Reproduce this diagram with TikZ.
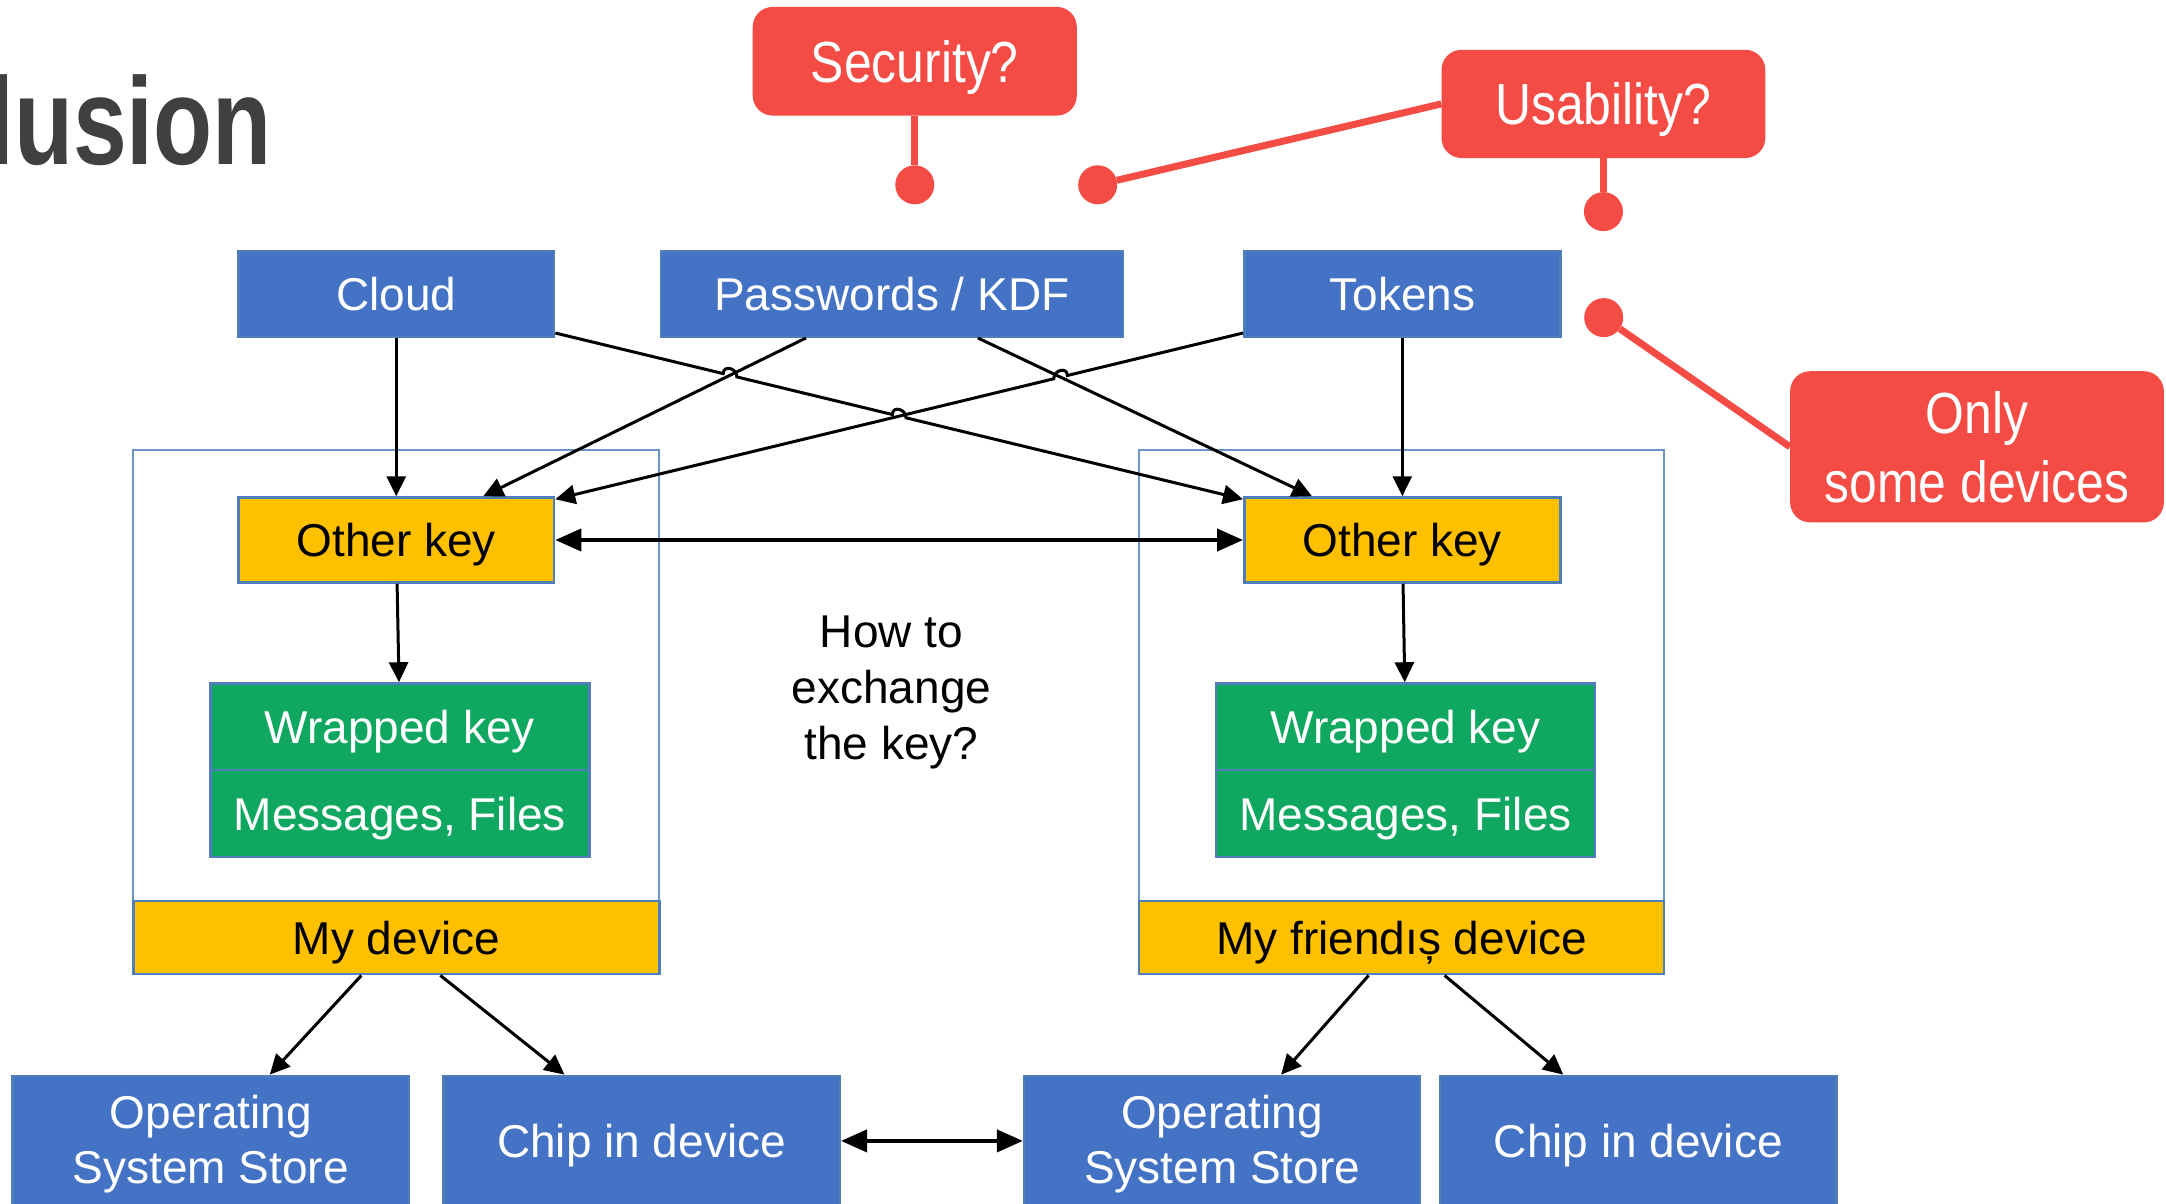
\documentclass[tikz,border=0pt]{standalone}
\usepackage{fontspec}
\setmainfont{Liberation Sans}
\newfontfamily\condfont[FakeStretch=0.86]{Liberation Sans}
\newfontfamily\headfont[FakeStretch=0.78]{Liberation Sans Bold}
\usetikzlibrary{arrows.meta,calc}

\definecolor{boxblue}{HTML}{4472C4}
\definecolor{edgeblue}{HTML}{4E7FBA}
\definecolor{framecol}{HTML}{6A95C9}
\definecolor{keyyellow}{HTML}{FFC000}
\definecolor{msggreen}{HTML}{10A860}
\definecolor{notered}{HTML}{F44C44}
\definecolor{headgray}{HTML}{404040}

% two centred lines, last baseline 43pt below the node centre
\newcommand\twolines[2]{\raisebox{-43pt}[0pt][0pt]{\begin{tabular}[b]{@{}c@{}}#1\\#2\end{tabular}}}

\begin{document}
\begin{tikzpicture}[x=1pt,y=-1pt,
  blk/.style={draw=edgeblue, line width=2.5pt, inner sep=0pt,
    font=\fontsize{46}{55}\selectfont, align=center},
  capline/.style={text height=33pt, text depth=0pt},
  bluebox/.style={blk, fill=boxblue, text=white},
  yellowbox/.style={blk, capline, fill=keyyellow, text=black},
  greenbox/.style={blk, capline, fill=msggreen, text=white},
  devframe/.style={draw=framecol, line width=2pt, inner sep=0pt},
  notebox/.style={fill=notered, rounded corners=20pt, inner sep=0pt, text=white,
    font=\condfont\fontsize{58}{69}\selectfont, align=center},
  noteline/.style={draw=notered, line width=7pt},
  notedot/.style={circle, fill=notered, minimum size=39pt, inner sep=0pt},
  link/.style={line width=3pt, -{Triangle[length=20pt,width=19pt]}},
  swap/.style={line width=4pt,
    {Triangle[length=26pt,width=22pt]}-{Triangle[length=26pt,width=22pt]}}
]
\useasboundingbox (0,0) rectangle (2166,1203);

% heading fragment
\node[anchor=base west, inner sep=0pt, text=headgray,
  font=\headfont\fontsize{124}{130}\selectfont] (title) at (-13,164.6) {lusion};

% device frames
\node[devframe, minimum width=526.1pt, minimum height=451.1pt] (contL) at (396.35,675.25) {};
\node[devframe, minimum width=525.2pt, minimum height=451.1pt] (contR) at (1401.6,675.25) {};

% key sources
\node[bluebox, capline, minimum width=315.5pt, minimum height=86pt] (cloud) at (396.25,293.75) {Cloud};
\node[bluebox, capline, minimum width=462.2pt, minimum height=86pt] (pw) at (891.9,293.75) {Passwords / KDF};
\node[bluebox, capline, minimum width=316pt, minimum height=86pt] (tokens) at (1402.3,293.75) {Tokens};

% keys on each device
\node[yellowbox, minimum width=315.5pt, minimum height=85pt] (okL) at (396.25,540) {Other key};
\node[yellowbox, minimum width=316pt, minimum height=85pt] (okR) at (1402.3,540) {Other key};

\node[greenbox, minimum width=378.9pt, minimum height=86.5pt] (wkL) at (399.85,726.75) {Wrapped key};
\node[greenbox, minimum width=378.9pt, minimum height=87pt] (msL) at (399.85,813.5) {Messages, Files};
\node[greenbox, minimum width=379.4pt, minimum height=86.5pt] (wkR) at (1405.5,726.75) {Wrapped key};
\node[greenbox, minimum width=379.4pt, minimum height=87pt] (msR) at (1405.5,813.5) {Messages, Files};

\node[yellowbox, minimum width=526.1pt, minimum height=73.4pt] (devL) at (396.35,937.5) {My device};
\node[yellowbox, minimum width=525.2pt, minimum height=73.4pt] (devR) at (1401.6,937.5) {My friendıș device};

% storage
\node[bluebox, minimum width=396.4pt, minimum height=130pt] (osL) at (210.8,1140.9) {\twolines{Operating}{System Store}};
\node[bluebox, capline, minimum width=396.4pt, minimum height=130pt] (chipL) at (641.55,1140.9) {Chip in device};
\node[bluebox, minimum width=396pt, minimum height=130pt] (osR) at (1222.15,1140.9) {\twolines{Operating}{System Store}};
\node[bluebox, capline, minimum width=396.5pt, minimum height=130pt] (chipR) at (1638.25,1140.9) {Chip in device};

\node[align=center, inner sep=0pt, font=\fontsize{46}{56}\selectfont] (q) at (891.5,692) {How to\\exchange\\the key?};

% connector end points
\coordinate (cS) at ($(cloud.south east)+(0,-5)$);
\coordinate (tS) at ($(tokens.south west)+(0,-5)$);
\coordinate (pL) at ($(pw.south)+(-86,0)$);
\coordinate (pR) at ($(pw.south)+(86,0)$);
\coordinate (okLin) at ($(okL.north east)+(-72,0)$);
\coordinate (okRin) at ($(okR.north west)+(69,0)$);
\coordinate (okLc) at ($(okL.north east)+(0,3)$);
\coordinate (okRc) at ($(okR.north west)+(0,3)$);

% crossings with line jumps
\coordinate (XA) at (intersection of cS--okRc and pL--okLin);
\coordinate (XB) at (intersection of cS--okRc and tS--okLc);
\coordinate (XC) at (intersection of tS--okLc and pR--okRin);

\draw[link] (cloud) -- (okL);
\draw[link] (tokens) -- (okR);
\draw[link] (pL) -- (okLin);
\draw[link] (pR) -- (okRin);
\draw[link] (cS) -- ($(XA)!7pt!(cS)$)
  .. controls ($(XA)!7pt!(cS)+(0,-9)$) and ($(XA)!7pt!(okRc)+(0,-9)$) .. ($(XA)!7pt!(okRc)$)
  -- ($(XB)!7pt!(cS)$)
  .. controls ($(XB)!7pt!(cS)+(0,-9)$) and ($(XB)!7pt!(okRc)+(0,-9)$) .. ($(XB)!7pt!(okRc)$)
  -- (okRc);
\draw[link] (tS) -- ($(XC)!7pt!(tS)$)
  .. controls ($(XC)!7pt!(tS)+(0,-9)$) and ($(XC)!7pt!(okLc)+(0,-9)$) .. ($(XC)!7pt!(okLc)$)
  -- (okLc);

\draw[swap] (okL) -- (okR);
\draw[link] (okL) -- (wkL);
\draw[link] (okR) -- (wkR);

\draw[link] ($(devL.south)+(-35,0)$) -- ($(osL.north)+(59,0)$);
\draw[link] ($(devL.south)+(44,0)$) -- ($(chipL.north)+(-77,0)$);
\draw[link] ($(devR.south)+(-33,0)$) -- ($(osR.north)+(59,0)$);
\draw[link] ($(devR.south)+(43,0)$) -- ($(chipR.north)+(-75,0)$);
\draw[swap] (chipL) -- (osR);

% open questions
\node[notebox, text height=42pt, text depth=0pt, minimum width=324.1pt, minimum height=108.7pt] (sec) at (914.75,61.25) {Security?};
\node[notebox, text height=42pt, text depth=0pt, minimum width=323.8pt, minimum height=108.2pt] (usa) at (1603.4,103.9) {Usability?};
\node[notebox, minimum width=373.7pt, minimum height=151.2pt] (only) at (1977,446.8) {Only\\some devices};

\node[notedot] (dS) at (914.75,184.8) {};
\node[notedot] (dU1) at (1097.7,184.8) {};
\node[notedot] (dU2) at (1603.4,211.6) {};
\node[notedot] (dO) at (1603.7,317.6) {};

\draw[noteline] (sec) -- (dS);
\draw[noteline] (usa.west) -- (dU1);
\draw[noteline] (usa) -- (dU2);
\draw[noteline] (only.west) -- (dO);
\end{tikzpicture}
\end{document}
